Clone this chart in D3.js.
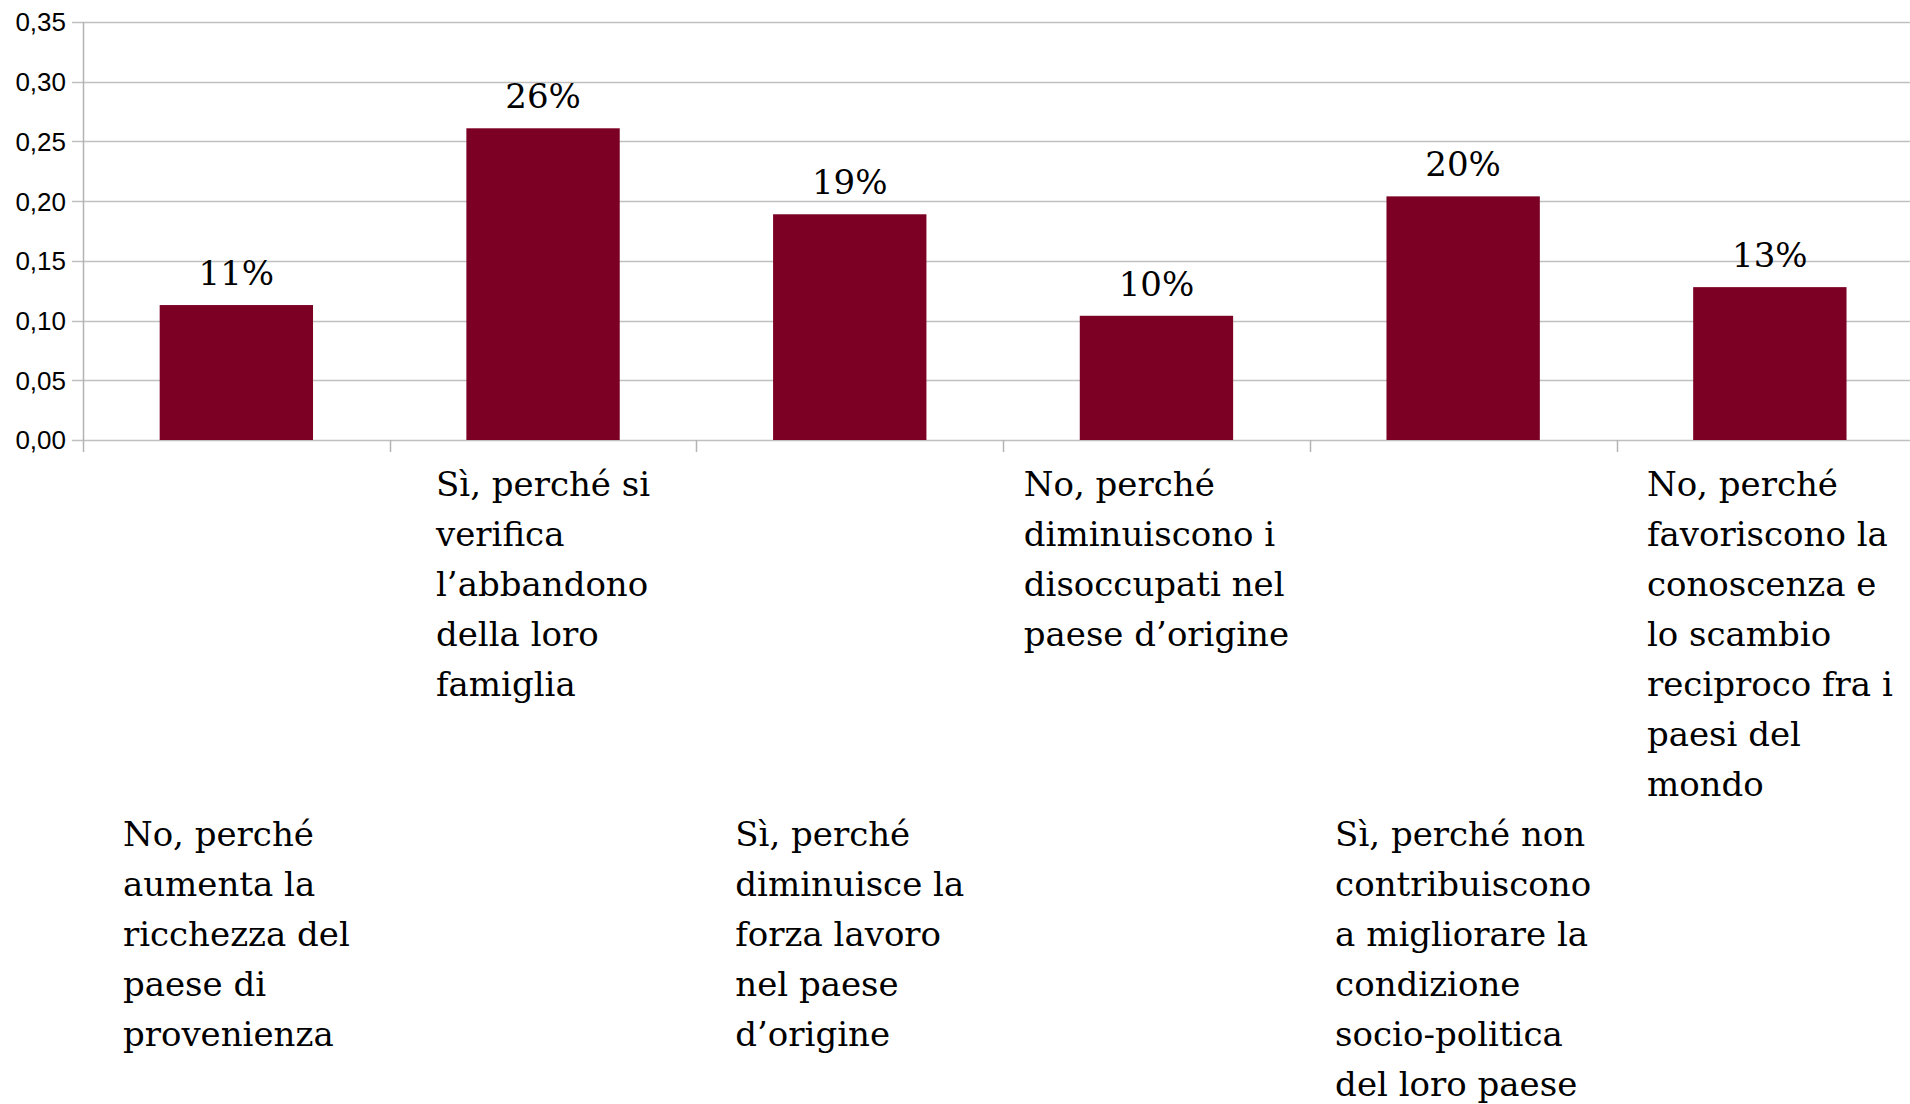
<!DOCTYPE html>
<html><head><meta charset="utf-8">
<script src="https://cdn.jsdelivr.net/npm/d3@7"></script>
<style>
html,body{margin:0;padding:0;background:#fff;overflow:hidden}
</style></head>
<body>
<svg id="chart" width="1910" height="1104"></svg>
<script>
const categories = [
  "No, perché\naumenta la\nricchezza del\npaese di\nprovenienza",
  "Sì, perché si\nverifica\nl’abbandono\ndella loro\nfamiglia",
  "Sì, perché\ndiminuisce la\nforza lavoro\nnel paese\nd’origine",
  "No, perché\ndiminuiscono i\ndisoccupati nel\npaese d’origine",
  "Sì, perché non\ncontribuiscono\na migliorare la\ncondizione\nsocio-politica\ndel loro paese",
  "No, perché\nfavoriscono la\nconoscenza e\nlo scambio\nreciproco fra i\npaesi del\nmondo"
];
const values = [0.113, 0.261, 0.189, 0.104, 0.204, 0.128];
const yTicks = [0, 0.05, 0.10, 0.15, 0.20, 0.25, 0.30, 0.35];

(function () {
const svg = d3.select("#chart");
const mLeft = 83, mTop = 22, mBottom = 440, band = 306.7;
const x = d3.scaleBand().domain(d3.range(categories.length))
  .range([mLeft, mLeft + band * categories.length]).paddingInner(0.5).paddingOuter(0.25);
const y = d3.scaleLinear().domain([0, 0.35]).range([mBottom, mTop]);

// gridlines
svg.append("g").selectAll("line").data(yTicks).join("line")
  .attr("x1", mLeft - 11).attr("x2", 1910)
  .attr("y1", d => Math.round(y(d)) + 0.5).attr("y2", d => Math.round(y(d)) + 0.5)
  .attr("stroke", "#c0c0c0").attr("stroke-width", 1.5);

// y axis line
svg.append("line").attr("x1", mLeft + 0.5).attr("x2", mLeft + 0.5)
  .attr("y1", y(0.35)).attr("y2", mBottom + 12)
  .attr("stroke", "#b3b3b3").attr("stroke-width", 1.5);

// x ticks (category boundaries)
const bounds = d3.range(1, categories.length + 1).map(i => mLeft + band * i);
svg.append("g").selectAll("line").data(bounds).join("line")
  .attr("x1", d => Math.round(d) + 0.5).attr("x2", d => Math.round(d) + 0.5)
  .attr("y1", mBottom).attr("y2", mBottom + 12)
  .attr("stroke", "#b3b3b3").attr("stroke-width", 1.5);

// y tick labels
const fmt = d => d3.format(".2f")(d).replace(".", ",");
svg.append("g").selectAll("text").data(yTicks).join("text")
  .attr("x", 66).attr("y", d => y(d)).attr("dy", "0.36em")
  .attr("text-anchor", "end")
  .attr("font-family", "Liberation Sans, Arial, sans-serif")
  .attr("font-size", 26).attr("fill", "#000")
  .text(fmt);

// bars
svg.append("g").selectAll("rect").data(values).join("rect")
  .attr("x", (d, i) => x(i)).attr("width", x.bandwidth())
  .attr("y", d => y(d)).attr("height", d => mBottom - y(d))
  .attr("fill", "#7b0023");

// value labels
svg.append("g").selectAll("text").data(values).join("text")
  .attr("x", (d, i) => x(i) + x.bandwidth() / 2)
  .attr("y", d => y(d) - 20)
  .attr("text-anchor", "middle")
  .attr("font-family", "DejaVu Serif, serif")
  .attr("font-size", 34).attr("fill", "#000")
  .text(d => Math.round(d * 100) + "%");

// category labels (staggered)
const lineH = 50;
const lines = categories.map(c => c.split("\n"));
const maxEven = d3.max(lines.filter((l, i) => i % 2 === 1), l => l.length);
const firstBase = 496;
const labelG = svg.append("g");
lines.forEach((ls, i) => {
  const cx = x(i) + x.bandwidth() / 2;
  const base = i % 2 === 1 ? firstBase : firstBase + maxEven * lineH;
  const t = labelG.append("text")
    .attr("font-family", "DejaVu Serif, serif")
    .attr("font-size", 34).attr("fill", "#000");
  ls.forEach((s, k) => {
    t.append("tspan").attr("x", 0).attr("y", base + k * lineH).text(s);
  });
  let w = 0;
  t.selectAll("tspan").each(function () { w = Math.max(w, this.getComputedTextLength()); });
  t.attr("transform", `translate(${cx - w / 2},0)`);
});
})();
</script>
</body></html>
